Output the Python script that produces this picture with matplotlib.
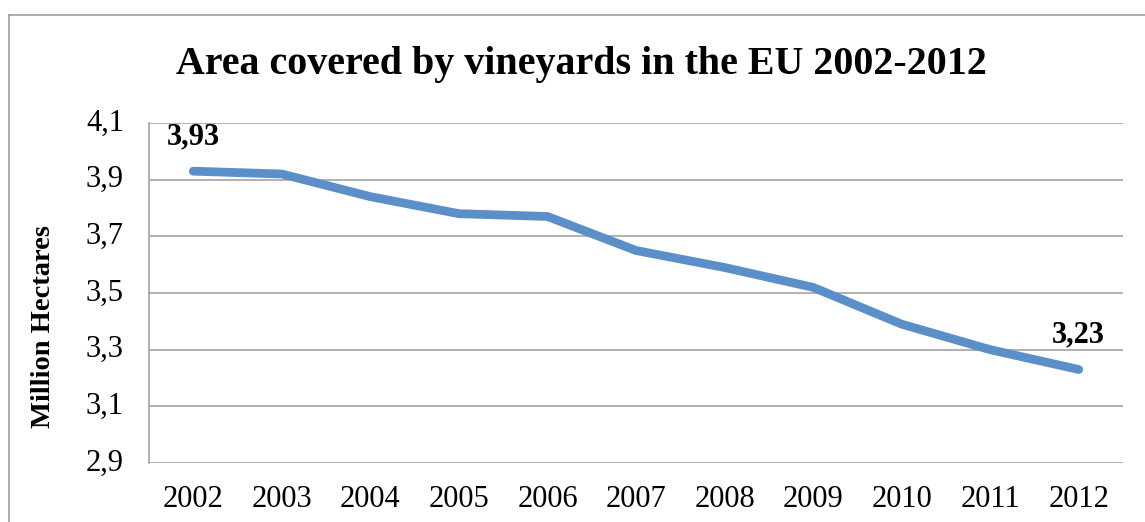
import matplotlib
matplotlib.use("Agg")
import matplotlib.pyplot as plt
from matplotlib.lines import Line2D

years = ["2002", "2003", "2004", "2005", "2006", "2007", "2008", "2009", "2010", "2011", "2012"]
area = [3.93, 3.92, 3.84, 3.78, 3.77, 3.65, 3.59, 3.52, 3.39, 3.30, 3.23]
yticks = [2.9, 3.1, 3.3, 3.5, 3.7, 3.9, 4.1]
ytick_labels = ["2,9", "3,1", "3,3", "3,5", "3,7", "3,9", "4,1"]
title = "Area covered by vineyards in the EU 2002-2012"
ylabel = "Million Hectares"

W, H = 1145, 522
fig = plt.figure(figsize=(W / 100, H / 100), dpi=100)
plt.rcParams['font.family'] = ['Liberation Serif', 'DejaVu Serif']

grid_c = "#A3A3A3"
line_c = "#5B8FC8"

ax = fig.add_axes([149 / W, 1 - 463 / H, (1123 - 149) / W, (463 - 123) / H])
x = list(range(len(years)))
ax.plot(x, area, color=line_c, lw=6.3, solid_capstyle="round", solid_joinstyle="round", zorder=3)
ax.set_xlim(-0.5, len(years) - 0.5)
ax.set_ylim(2.9, 4.1)
ax.set_yticks(yticks)
ax.set_yticklabels(ytick_labels)
ax.set_xticks(x)
ax.set_xticklabels(years)
ax.tick_params(axis="both", length=0, labelsize=22, colors="black")
ax.tick_params(axis="x", pad=16)
ax.tick_params(axis="y", pad=18)
for lbl in ax.get_yticklabels():
    lbl.set_va("center")
ax.yaxis.grid(True, color=grid_c, lw=1.2)
ax.set_axisbelow(True)
for s in ["top", "right", "bottom"]:
    ax.spines[s].set_visible(False)
ax.spines["left"].set_color(grid_c)
ax.spines["left"].set_linewidth(1.2)

# data labels for first and last point
for i in (0, len(area) - 1):
    ax.annotate(f"{area[i]:.2f}".replace(".", ","), (x[i], area[i]), xytext=(0, 25),
                textcoords="offset points", ha="center", va="center",
                fontsize=22, fontweight="bold")

fig.text(581.5 / W, 1 - 65 / H, title, ha="center", va="center",
         fontsize=28.8, fontweight="bold")
fig.text(44 / W, 1 - 327 / H, ylabel, ha="center", va="center", rotation=90,
         fontsize=20.5, fontweight="bold")

# chart area frame (left and top edges visible)
fig.add_artist(Line2D([9 / W, 9 / W], [0, 1 - 15 / H], color="#A0A0A0", lw=1.2))
fig.add_artist(Line2D([9 / W, 1], [1 - 15 / H, 1 - 15 / H], color="#A0A0A0", lw=1.2))

fig.savefig("out.png", dpi=100, facecolor="white")
